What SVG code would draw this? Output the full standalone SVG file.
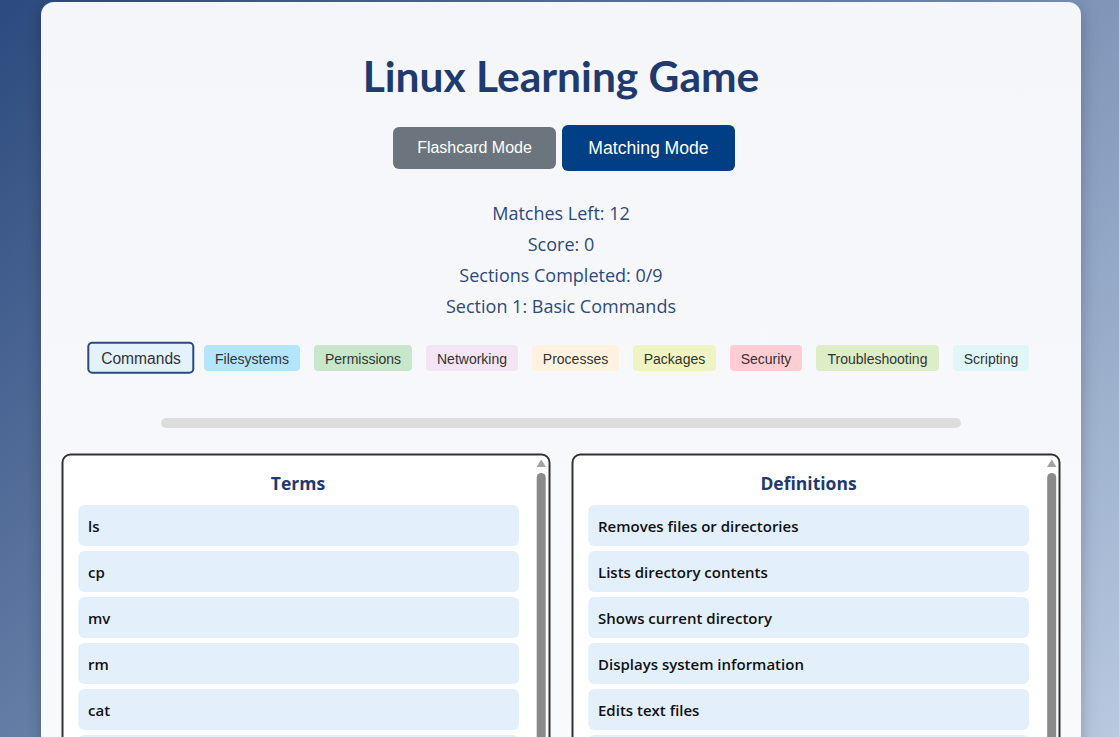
<svg xmlns="http://www.w3.org/2000/svg" width="1119" height="737" viewBox="0 0 1119 737">
<defs>
  <linearGradient id="bg" gradientUnits="userSpaceOnUse" x1="0" y1="0" x2="928" y2="928">
    <stop offset="0" stop-color="#2c4a7e"/>
    <stop offset="1" stop-color="#b8c9e0"/>
  </linearGradient>
  <linearGradient id="cardfill" x1="0" y1="0" x2="0" y2="1">
    <stop offset="0" stop-color="#f4f6f9"/>
    <stop offset="1" stop-color="#f9fafc"/>
  </linearGradient>
  <filter id="shadow" x="-10%" y="-10%" width="120%" height="120%">
    <feDropShadow dx="0" dy="4" stdDeviation="8" flood-color="#000" flood-opacity="0.25"/>
  </filter>
  <style>
    .title{font-family:Lato,"Open Sans",sans-serif;font-weight:700;font-size:42.5px;fill:#1f3a6f;text-anchor:middle}
    .btn{font-family:"Liberation Sans",Arial,sans-serif;fill:#fff;text-anchor:middle}
    .stat{font-family:"Open Sans","Noto Sans",sans-serif;font-size:18px;fill:#2d4a7a;text-anchor:middle}
    .chip{font-family:"Liberation Sans",Arial,sans-serif;font-size:14px;fill:#333;text-anchor:middle}
    .chip.active{font-size:15.6px}
    .panel{fill:#fff;stroke:#333;stroke-width:2}
    .head{font-family:"Open Sans","Noto Sans",sans-serif;font-weight:700;font-size:17.5px;fill:#1f3a6f;text-anchor:middle}
    .item{fill:#e3f0fc}
    .itext{font-family:"Open Sans","Noto Sans",sans-serif;font-weight:600;font-size:15px;fill:#111}
    .thumb{fill:#8a8a8a}
    .arrow{fill:#a3a3a3}
  </style>
</defs>
<rect x="0" y="0" width="1119" height="737" fill="url(#bg)"/>
<g id="card">
  <rect x="41" y="2" width="1040" height="800" rx="13" fill="url(#cardfill)" filter="url(#shadow)"/>
</g>
<g id="title"><text class="title" x="561" y="92">Linux Learning Game</text></g>
<g id="btn-flashcard">
  <rect x="393" y="127" width="163" height="42" rx="6" fill="#6c757d"/>
  <text class="btn" x="474.5" y="153" font-size="16">Flashcard Mode</text>
</g>
<g id="btn-matching">
  <rect x="562" y="125" width="173" height="46" rx="6" fill="#003e85"/>
  <text class="btn" x="648.5" y="154" font-size="17.6">Matching Mode</text>
</g>
<g id="stats">
  <text class="stat" x="561" y="220">Matches Left: 12</text>
  <text class="stat" x="561" y="251">Score: 0</text>
  <text class="stat" x="561" y="282">Sections Completed: 0/9</text>
  <text class="stat" x="561" y="312.5">Section 1: Basic Commands</text>
</g>
<g id="chips">
  <g id="chip-commands"><rect x="88.3" y="342.7" width="105" height="30" rx="4" fill="#e3f2fd" stroke="#2a4a80" stroke-width="2"/><text class="chip active" x="141" y="364">Commands</text></g>
  <g id="chip-filesystems"><rect x="204" y="345" width="96" height="26" rx="4" fill="#b3e5fc"/><text class="chip" x="252" y="363.5">Filesystems</text></g>
  <g id="chip-permissions"><rect x="314" y="345" width="98" height="26" rx="4" fill="#c8e6c9"/><text class="chip" x="363" y="363.5">Permissions</text></g>
  <g id="chip-networking"><rect x="426" y="345" width="92" height="26" rx="4" fill="#f3e5f5"/><text class="chip" x="472" y="363.5">Networking</text></g>
  <g id="chip-processes"><rect x="532" y="345" width="87" height="26" rx="4" fill="#fff3e0"/><text class="chip" x="575.5" y="363.5">Processes</text></g>
  <g id="chip-packages"><rect x="633" y="345" width="83" height="26" rx="4" fill="#f0f4c3"/><text class="chip" x="674.5" y="363.5">Packages</text></g>
  <g id="chip-security"><rect x="730" y="345" width="72" height="26" rx="4" fill="#ffcdd2"/><text class="chip" x="766" y="363.5">Security</text></g>
  <g id="chip-troubleshooting"><rect x="816" y="345" width="123" height="26" rx="4" fill="#dcedc8"/><text class="chip" x="877.5" y="363.5">Troubleshooting</text></g>
  <g id="chip-scripting"><rect x="953" y="345" width="76" height="26" rx="4" fill="#e0f7fa"/><text class="chip" x="991" y="363.5">Scripting</text></g>
</g>
<g id="progress"><rect x="161" y="418" width="800" height="10" rx="5" fill="#dddddd"/></g>
<g id="terms-panel">
  <rect class="panel" x="62.5" y="454.5" width="487" height="400" rx="8"/>
  <path class="arrow" d="M536.5 467 L541.2 459.5 L546 467 Z"/>
  <rect class="thumb" x="536.7" y="473" width="9" height="300" rx="4.5"/>
  <text class="head" x="298" y="490">Terms</text>
  <rect class="item" x="78.3" y="505" width="440.7" height="41" rx="6"/>
  <text class="itext" x="88" y="531.5">ls</text>
  <rect class="item" x="78.3" y="551" width="440.7" height="41" rx="6"/>
  <text class="itext" x="88" y="577.5">cp</text>
  <rect class="item" x="78.3" y="597" width="440.7" height="41" rx="6"/>
  <text class="itext" x="88" y="623.5">mv</text>
  <rect class="item" x="78.3" y="643" width="440.7" height="41" rx="6"/>
  <text class="itext" x="88" y="669.5">rm</text>
  <rect class="item" x="78.3" y="689" width="440.7" height="41" rx="6"/>
  <text class="itext" x="88" y="715.5">cat</text>
  <rect class="item" x="78.3" y="735" width="440.7" height="41" rx="6"/>
</g>
<g id="definitions-panel">
  <rect class="panel" x="572.5" y="454.5" width="487" height="400" rx="8"/>
  <path class="arrow" d="M1047 467 L1051.7 459.5 L1056.5 467 Z"/>
  <rect class="thumb" x="1047.2" y="473" width="9" height="300" rx="4.5"/>
  <text class="head" x="808.5" y="490">Definitions</text>
  <rect class="item" x="588.3" y="505" width="440.7" height="41" rx="6"/>
  <text class="itext" x="598" y="531.5">Removes files or directories</text>
  <rect class="item" x="588.3" y="551" width="440.7" height="41" rx="6"/>
  <text class="itext" x="598" y="577.5">Lists directory contents</text>
  <rect class="item" x="588.3" y="597" width="440.7" height="41" rx="6"/>
  <text class="itext" x="598" y="623.5">Shows current directory</text>
  <rect class="item" x="588.3" y="643" width="440.7" height="41" rx="6"/>
  <text class="itext" x="598" y="669.5">Displays system information</text>
  <rect class="item" x="588.3" y="689" width="440.7" height="41" rx="6"/>
  <text class="itext" x="598" y="715.5">Edits text files</text>
  <rect class="item" x="588.3" y="735" width="440.7" height="41" rx="6"/>
</g>
<g id="connectors"/>
</svg>
